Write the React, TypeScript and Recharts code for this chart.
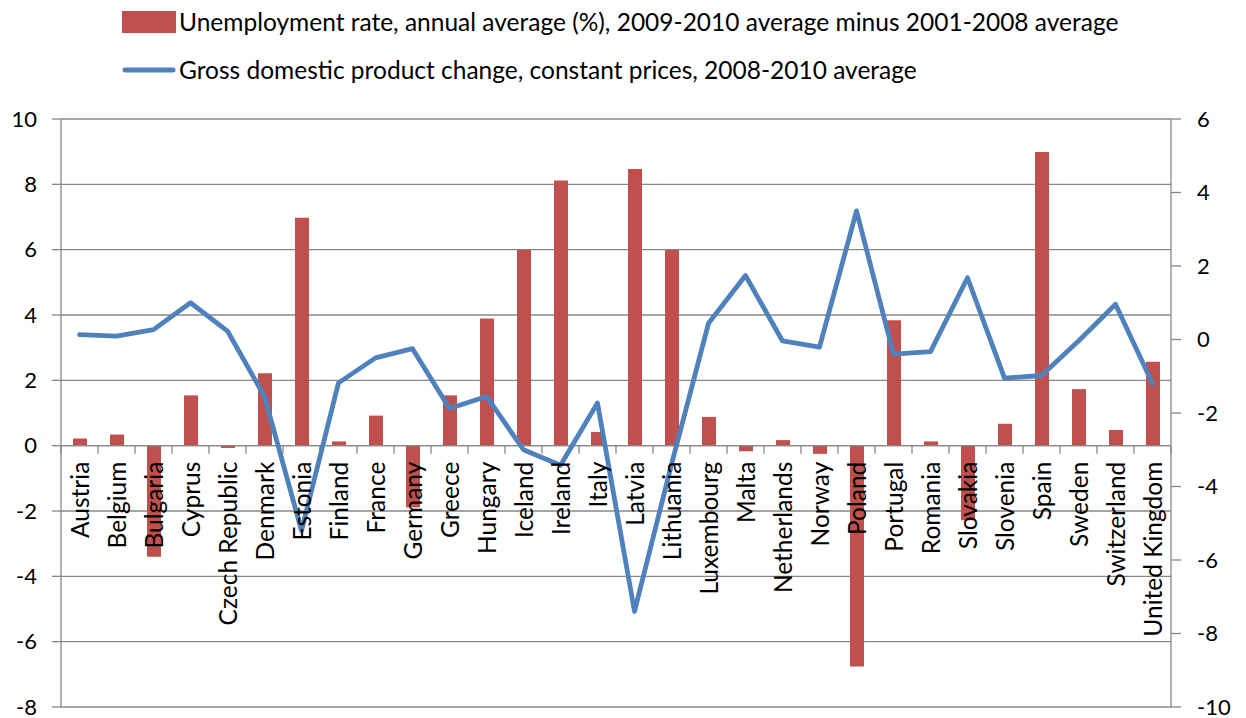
import React from 'react';
import {
  ComposedChart,
  Bar,
  Line,
  XAxis,
  YAxis,
  CartesianGrid,
  ReferenceLine,
  ReferenceDot,
  Legend,
} from 'recharts';

const countries = [
  'Austria', 'Belgium', 'Bulgaria', 'Cyprus', 'Czech Republic', 'Denmark', 'Estonia', 'Finland',
  'France', 'Germany', 'Greece', 'Hungary', 'Iceland', 'Ireland', 'Italy', 'Latvia', 'Lithuania',
  'Luxembourg', 'Malta', 'Netherlands', 'Norway', 'Poland', 'Portugal', 'Romania', 'Slovakia',
  'Slovenia', 'Spain', 'Sweden', 'Switzerland', 'United Kingdom',
];

const unemploymentChange = [
  0.22, 0.34, -3.4, 1.54, -0.07, 2.22, 6.98, 0.13, 0.92, -1.89, 1.54, 3.89, 5.99, 8.12, 0.42,
  8.47, 5.99, 0.88, -0.17, 0.17, -0.25, -6.76, 3.84, 0.13, -2.28, 0.67, 8.99, 1.73, 0.48, 2.57,
];

const gdpChange = [
  0.13, 0.09, 0.27, 1.0, 0.23, -1.55, -5.2, -1.18, -0.5, -0.25, -1.88, -1.55, -3.0, -3.42, -1.73,
  -7.4, -3.4, 0.44, 1.74, -0.04, -0.21, 3.5, -0.4, -0.33, 1.68, -1.05, -0.98, -0.04, 0.96, -1.2,
];

const leftTicks = [-8, -6, -4, -2, 0, 2, 4, 6, 8, 10];
const rightTicks = [-10, -8, -6, -4, -2, 0, 2, 4, 6];

const seriesNames = {
  unemployment: 'Unemployment rate, annual average (%), 2009-2010 average minus 2001-2008 average',
  gdp: 'Gross domestic product change, constant prices, 2008-2010 average',
};

const legendOrder = ['unemployment', 'gdp'];

const chartData = countries.map((country, i) => ({
  country,
  unemployment: unemploymentChange[i],
  gdp: gdpChange[i],
}));

const FONT = "Lato, 'Open Sans', 'Liberation Sans', sans-serif";
const RED = '#C0504D';
const BLUE = '#4F81BD';
const GRID = '#878787';
const TICK_DEPTH = 0.25;

const renderLegend = (props: any) => {
  const payload = [...(props.payload || [])].sort(
    (a: any, b: any) => legendOrder.indexOf(a.dataKey) - legendOrder.indexOf(b.dataKey)
  );
  return (
    <div style={{ fontFamily: FONT, fontSize: 24.5, color: '#000', lineHeight: 1 }}>
      {payload.map((entry: any, i: number) => (
        <div
          key={i}
          style={{ display: 'flex', alignItems: 'center', height: 28, marginBottom: i === 0 ? 20 : 0, whiteSpace: 'nowrap' }}
        >
          <svg width={54} height={22} style={{ display: 'block' }}>
            {entry.type === 'line' ? (
              <line x1={3} y1={11} x2={51} y2={11} stroke={entry.color} strokeWidth={5} strokeLinecap="round" />
            ) : (
              <rect x={0} y={0} width={54} height={22} fill={entry.color} />
            )}
          </svg>
          <span style={{ marginLeft: 3 }}>{entry.value}</span>
        </div>
      ))}
    </div>
  );
};

const makeCategoryLabel = (text: string) => (props: any) => {
  const vb = props.viewBox || props;
  const cx = vb.x + (vb.width || 0) / 2;
  const cy = vb.y + (vb.height || 0) / 2 + 16;
  return (
    <text
      x={cx}
      y={cy}
      transform={`rotate(-90 ${cx} ${cy})`}
      textAnchor="end"
      dominantBaseline="central"
      fontFamily={FONT}
      fontSize={24.5}
      fill="#000"
    >
      {text}
    </text>
  );
};

export default function App() {
  return (
    <ComposedChart
      width={1230}
      height={710}
      data={chartData}
      margin={{ top: 111, right: 0, bottom: 11, left: 0 }}
      barSize={14}
    >
      <CartesianGrid yAxisId="left" horizontal vertical={false} stroke={GRID} strokeWidth={1.3} />
      <XAxis dataKey="country" type="category" hide />
      <YAxis
        yAxisId="left"
        orientation="left"
        width={53}
        domain={[-8, 10]}
        ticks={leftTicks}
        interval={0}
        tickSize={9}
        tickMargin={15}
        axisLine={{ stroke: GRID, strokeWidth: 1.3 }}
        tickLine={{ stroke: GRID, strokeWidth: 1.3 }}
        tick={{ fill: '#000', fontSize: 22, fontFamily: FONT }}
      />
      <YAxis
        yAxisId="right"
        orientation="right"
        width={67}
        domain={[-10, 6]}
        ticks={rightTicks}
        interval={0}
        tickSize={10}
        tickMargin={16}
        axisLine={{ stroke: GRID, strokeWidth: 1.3 }}
        tickLine={{ stroke: GRID, strokeWidth: 1.3 }}
        tick={{ fill: '#000', fontSize: 22, fontFamily: FONT, textAnchor: 'start' }}
      />
      <Legend
        layout="vertical"
        verticalAlign="middle"
        align="center"
        content={renderLegend}
        wrapperStyle={{ top: 0, left: 114, width: 1100 }}
      />
      <Bar
        yAxisId="left"
        dataKey="unemployment"
        name={seriesNames.unemployment}
        fill={RED}
        isAnimationActive={false}
        legendType="rect"
      />
      <ReferenceLine yAxisId="left" y={0} stroke={GRID} strokeWidth={1.3} />
      {countries.map((c) => (
        <ReferenceLine
          key={`tick-${c}`}
          yAxisId="left"
          position="start"
          segment={[{ x: c, y: 0 }, { x: c, y: -TICK_DEPTH }]}
          stroke={GRID}
          strokeWidth={1.3}
        />
      ))}
      <ReferenceLine
        yAxisId="left"
        position="end"
        segment={[{ x: countries[countries.length - 1], y: 0 }, { x: countries[countries.length - 1], y: -TICK_DEPTH }]}
        stroke={GRID}
        strokeWidth={1.3}
      />
      {countries.map((c) => (
        <ReferenceDot
          key={`lbl-${c}`}
          yAxisId="left"
          x={c}
          y={0}
          r={0}
          fill="none"
          stroke="none"
          label={makeCategoryLabel(c)}
        />
      ))}
      <Line
        yAxisId="right"
        type="linear"
        dataKey="gdp"
        name={seriesNames.gdp}
        stroke={BLUE}
        strokeWidth={4.8}
        strokeLinejoin="round"
        strokeLinecap="round"
        dot={false}
        activeDot={false}
        isAnimationActive={false}
        legendType="line"
      />
    </ComposedChart>
  );
}
